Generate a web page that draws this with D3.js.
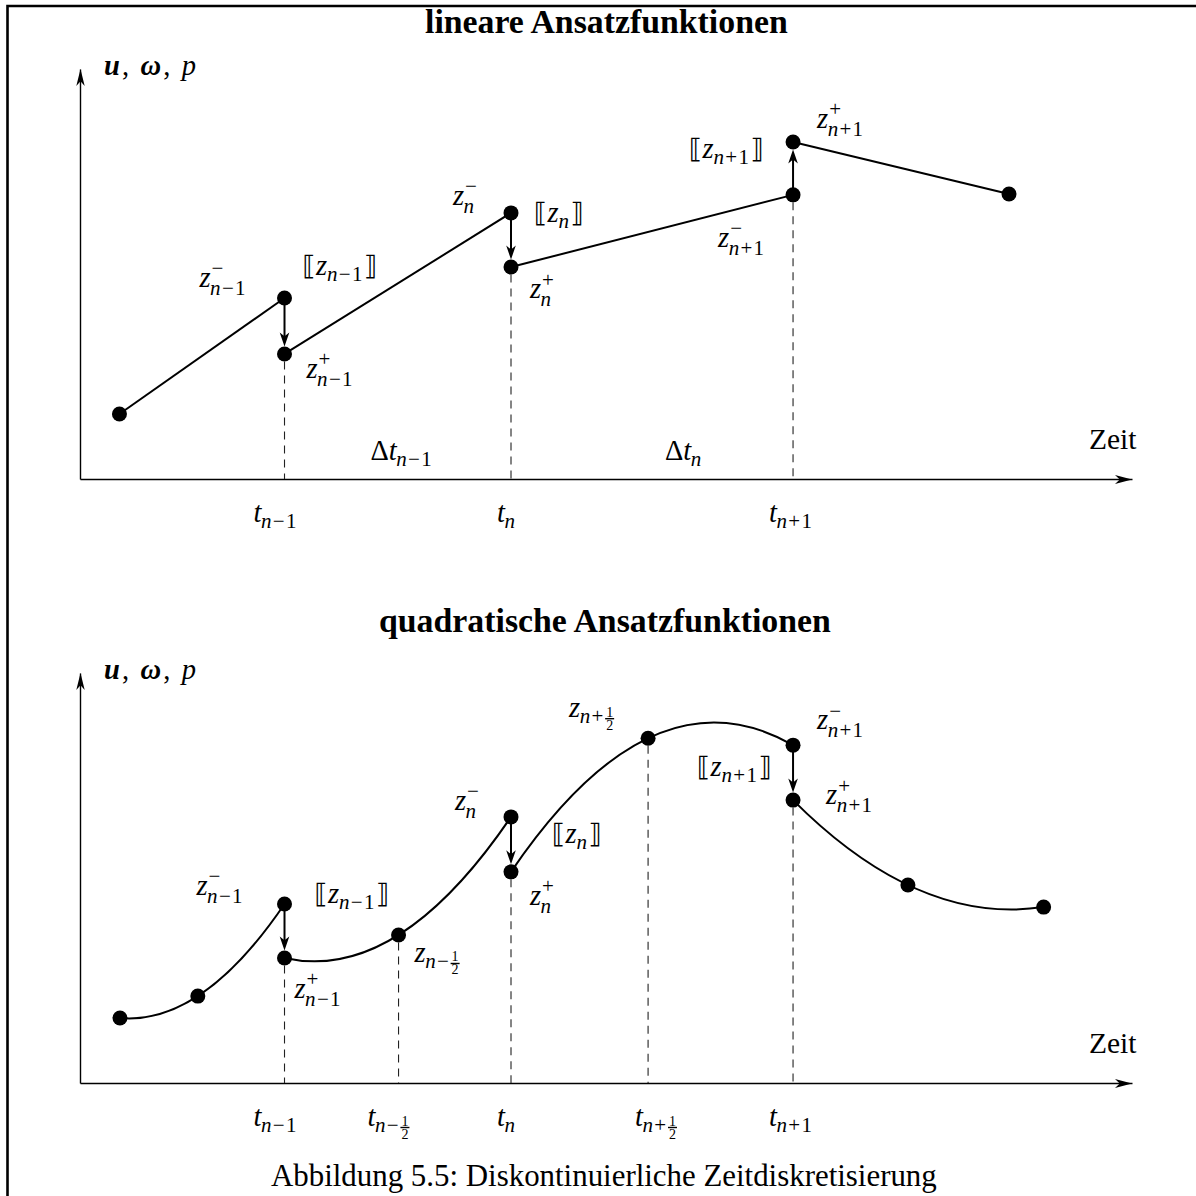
<!DOCTYPE html>
<html><head><meta charset="utf-8">
<script src="https://cdn.jsdelivr.net/npm/d3@7"></script>
<style>
body{margin:0;background:#fff}
svg{display:block}
</style>
</head><body>
<svg id="c" width="1196" height="1196"></svg>
<script>
// ------------------------------------------------------------------ data
// time axis runs 0..10, value axis runs 0..10 (arbitrary units)
const titles = ['lineare Ansatzfunktionen', 'quadratische Ansatzfunktionen'];
const caption = 'Abbildung 5.5: Diskontinuierliche Zeitdiskretisierung';
const xAxisLabel = 'Zeit';

// linear basis functions: nodes (time, value)
const linearTimes  = [0.375, 1.944, 1.944, 4.097, 4.097, 6.778, 6.778, 8.831];
const linearValues = [1.585, 4.415, 3.05, 6.49, 5.17, 6.93, 8.22, 6.95];
const linearElements = [[0, 1], [2, 3], [4, 5], [6, 7]];
const linearJumps = [[1, 2], [3, 4], [5, 6]];
const linearDashed = [2, 4, 5];
const linearNodeSups = [null, '−', '+', '−', '+', '−', '+', null];
const linearNodeSubs = [null, 'n−1', 'n−1', 'n', 'n', 'n+1', 'n+1', null];
const linearJumpSubs = ['n−1', 'n', 'n+1'];
const linearTickTimes = [1.944, 4.097, 6.778];
const linearTickSubs = ['n−1', 'n', 'n+1'];
const deltaSubs = ['n−1', 'n'];

// quadratic basis functions: nodes (time, value)
const quadTimes  = [0.38, 1.12, 1.944, 1.944, 3.028, 4.097, 4.097, 5.40, 6.778, 6.778, 7.87, 9.16];
const quadValues = [1.585, 2.12, 4.366, 3.05, 3.61, 6.49, 5.15, 8.41, 8.24, 6.90, 4.83, 4.29];
const quadElements = [[0, 1, 2], [3, 4, 5], [6, 7, 8], [9, 10, 11]];
const quadJumps = [[2, 3], [5, 6], [8, 9]];
const quadDashed = [3, 4, 6, 7, 9];
const quadNodeSups = [null, null, '−', '+', null, '−', '+', null, '−', '+', null, null];
const quadNodeSubs = [null, null, 'n−1', 'n−1', 'n−½', 'n', 'n', 'n+½', 'n+1', 'n+1', null, null];
const quadJumpSubs = ['n−1', 'n', 'n+1'];
const quadTickTimes = [1.944, 3.028, 4.097, 5.40, 6.778];
const quadTickSubs = ['n−1', 'n−½', 'n', 'n+½', 'n+1'];

// ------------------------------------------------------------------ layout
const FONT = "'Liberation Serif','Times New Roman',serif";
const BRFONT = "'DejaVu Serif','DejaVu Sans',serif";
const FS = 28.5, SS = 21, SSS = 14;
const SUBSP = 1.3;
const R = 7.5;
const xLeft = 80, xRight = 1132;
const panels = [
  {axisY: 479, topY: 69, titleY: 33, titleX: [425, 788]},
  {axisY: 1083, topY: 673, titleY: 632, titleX: [379, 831]}
];
const linearNodeLabelOffsets = [null, [-85, -11], [22, 24], [-58, -8], [19, 31], [-75, 52], [24, -14], null];
const linearJumpLabelOffsets = [[18, -23], [23, 9], [-104, -37]];
const linearTickDx = [-31, -14, -24];
const deltaDx = [86, 154];
const quadNodeLabelOffsets = [null, null, [-88, -9], [10, 40], [16, 27], [-56, -7], [19, 33], [-79, -21], [24, -16], [33, 4], null, null];
const quadJumpLabelOffsets = [[30, -1], [41, 26], [-96, 31]];
const quadTickDx = [-31, -31, -14, -13, -24];

// ------------------------------------------------------------------ drawing
const svg = d3.select('#c').style('font-family', FONT);
svg.append('rect').attr('width', 1196).attr('height', 1196).attr('fill', '#fff');
svg.append('path').attr('d', 'M7.5,1196V6H1196').attr('fill', 'none')
  .attr('stroke', '#000').attr('stroke-width', 2.6);

const x = d3.scaleLinear().domain([0, 10]).range([xLeft, xRight]);

function arrowHead(g, tx, ty, ux, uy, len, hw) {
  const bx = tx - ux * len, by = ty - uy * len;
  const nx = -uy, ny = ux;
  const mx = tx - ux * len * 0.72, my = ty - uy * len * 0.72;
  const p = d3.path();
  p.moveTo(tx, ty);
  p.lineTo(bx + nx * hw, by + ny * hw);
  p.lineTo(mx, my);
  p.lineTo(bx - nx * hw, by - ny * hw);
  p.closePath();
  g.append('path').attr('d', p.toString()).attr('fill', '#000');
}

// one <text> per formula: base letter, stacked super/subscript via absolute tspans
function mathLabel(g, xx, yy, base, sup, sub, prefix) {
  const t = g.append('text').attr('x', xx).attr('y', yy).attr('font-size', FS).attr('fill', '#000');
  if (prefix) t.append('tspan').text(prefix);
  t.append('tspan').attr('font-style', 'italic').text(base);
  const w = t.node().getComputedTextLength();
  if (sup) t.append('tspan').attr('x', xx + w + 1).attr('y', yy - 11.5).attr('font-size', SS).text(sup);
  if (sub) {
    const hasFrac = sub.endsWith('½');
    const s = hasFrac ? sub.slice(0, -1) : sub;
    const sx = xx + w - 0.5, sy = yy + (sup ? 8 : 6);
    const t1 = t.append('tspan').attr('x', sx).attr('y', sy).attr('font-size', SS)
      .attr('font-style', 'italic').attr('letter-spacing', SUBSP).text(s[0]);
    let sw = t1.node().getComputedTextLength();
    if (s.length > 1) {
      const t2 = t.append('tspan').attr('font-size', SS).attr('font-style', 'normal')
        .attr('letter-spacing', SUBSP).text(s.slice(1));
      sw += t2.node().getComputedTextLength();
    }
    if (hasFrac) {
      const fx = sx + sw + 0.5, barY = sy - 4.5, fw = 9;
      t.append('tspan').attr('x', fx + 1).attr('y', barY - 2).attr('font-size', SSS)
        .attr('font-style', 'normal').attr('letter-spacing', 0).text('1');
      t.append('tspan').attr('x', fx + 1).attr('y', barY + 11).attr('font-size', SSS)
        .attr('font-style', 'normal').attr('letter-spacing', 0).text('2');
      g.append('line').attr('x1', fx).attr('x2', fx + fw).attr('y1', barY).attr('y2', barY)
        .attr('stroke', '#000').attr('stroke-width', 1.4);
    }
  }
}

function jumpLabel(g, xx, yy, sub) {
  const t = g.append('text').attr('x', xx).attr('y', yy).attr('font-size', FS).attr('fill', '#000');
  t.append('tspan').attr('font-family', BRFONT).attr('font-size', 27).attr('fill', '#000').text('⟦');
  t.append('tspan').attr('font-style', 'italic').text('z');
  t.append('tspan').attr('dy', 6).attr('font-size', SS).attr('font-style', 'italic')
    .attr('letter-spacing', SUBSP).text(sub[0]);
  if (sub.length > 1) t.append('tspan').attr('font-size', SS).attr('letter-spacing', SUBSP).text(sub.slice(1));
  t.append('tspan').attr('dy', -6).attr('font-family', BRFONT).attr('font-size', 27).attr('fill', '#000').text('⟧');
}

function fitSpacing(sel, target) {
  const w = sel.node().getComputedTextLength();
  const n = sel.text().length;
  sel.attr('letter-spacing', (target - w) / (n - 1));
}
function fitSize(sel, target) {
  const w = sel.node().getComputedTextLength();
  sel.attr('font-size', parseFloat(sel.attr('font-size')) * target / w);
}

function quadPath(p0, p1, p2) {
  const [x0, y0] = p0, [x1, y1] = p1, [x2, y2] = p2;
  const d0 = y0 * (2 * x0 - x1 - x2) / ((x0 - x1) * (x0 - x2))
           + y1 * (x0 - x2) / ((x1 - x0) * (x1 - x2))
           + y2 * (x0 - x1) / ((x2 - x0) * (x2 - x1));
  const xm = (x0 + x2) / 2, ym = y0 + d0 * (xm - x0);
  const p = d3.path();
  p.moveTo(x0, y0);
  p.quadraticCurveTo(xm, ym, x2, y2);
  return p.toString();
}

function drawPanel(pi, cfg) {
  const P = panels[pi];
  const g = svg.append('g');
  const y = d3.scaleLinear().domain([0, 10]).range([P.axisY, P.topY]);

  // title
  const tt = g.append('text').attr('x', P.titleX[0]).attr('y', P.titleY)
    .attr('font-size', 29).attr('font-weight', 'bold').text(titles[pi]);
  fitSize(tt, P.titleX[1] - P.titleX[0]);

  // axes
  const gx = g.append('g').attr('transform', `translate(0,${P.axisY})`)
    .call(d3.axisBottom(x).tickValues([]).tickSizeOuter(0));
  const gy = g.append('g').attr('transform', `translate(${xLeft},0)`)
    .call(d3.axisLeft(y).tickValues([]).tickSizeOuter(0));
  [gx, gy].forEach(a => a.select('.domain').attr('stroke', '#000').attr('stroke-width', 1.4));
  arrowHead(g, xRight, P.axisY + 0.5, 1, 0, 17, 4.4);
  arrowHead(g, xLeft + 0.5, P.topY, 0, -1, 17, 4.2);

  // axis labels
  const yl = g.append('text').attr('x', 104).attr('y', P.topY + 6).attr('font-size', FS);
  yl.append('tspan').attr('font-weight', 'bold').attr('font-style', 'italic').text('u');
  yl.append('tspan').text(', ');
  yl.append('tspan').attr('font-weight', 'bold').attr('font-style', 'italic').text('ω');
  yl.append('tspan').text(', ');
  yl.append('tspan').attr('font-style', 'italic').text('p');
  fitSpacing(yl, 92);
  g.append('text').attr('x', 1089).attr('y', P.axisY - 30).attr('font-size', 29.5).text(xAxisLabel);

  const pts = cfg.times.map((t, i) => [x(t), y(cfg.values[i])]);

  // dashed verticals
  g.selectAll('line.dash').data(cfg.dashed).join('line').attr('class', 'dash')
    .attr('x1', i => pts[i][0]).attr('x2', i => pts[i][0])
    .attr('y1', i => pts[i][1] + R).attr('y2', P.axisY)
    .attr('stroke', '#222').attr('stroke-width', 1.1).attr('stroke-dasharray', '8,6');

  // elements
  if (cfg.quadratic) {
    g.selectAll('path.el').data(cfg.elements).join('path').attr('class', 'el')
      .attr('d', e => quadPath(pts[e[0]], pts[e[1]], pts[e[2]]))
      .attr('fill', 'none').attr('stroke', '#000').attr('stroke-width', 2);
  } else {
    const line = d3.line();
    g.selectAll('path.el').data(cfg.elements).join('path').attr('class', 'el')
      .attr('d', e => line(e.map(i => pts[i])))
      .attr('fill', 'none').attr('stroke', '#000').attr('stroke-width', 2);
  }

  // jump arrows
  cfg.jumps.forEach(([a, b]) => {
    const [xa, ya] = pts[a], [xb, yb] = pts[b];
    const dir = Math.sign(yb - ya);
    const tipY = yb - dir * R;
    g.append('line').attr('x1', xa).attr('x2', xb).attr('y1', ya).attr('y2', tipY - dir * 9)
      .attr('stroke', '#000').attr('stroke-width', 2);
    arrowHead(g, xb, tipY, 0, dir, 14, 4.8);
  });

  // dots
  g.selectAll('circle.node').data(pts).join('circle').attr('class', 'node')
    .attr('cx', d => d[0]).attr('cy', d => d[1]).attr('r', R).attr('fill', '#000');

  // node labels
  cfg.nodeSubs.forEach((s, i) => {
    if (!s) return;
    const o = cfg.nodeOffsets[i];
    mathLabel(g, pts[i][0] + o[0], pts[i][1] + o[1], 'z', cfg.nodeSups[i], s);
  });
  // jump labels
  cfg.jumps.forEach(([a], k) => {
    const o = cfg.jumpOffsets[k];
    jumpLabel(g, pts[a][0] + o[0], pts[a][1] + o[1], cfg.jumpSubs[k]);
  });
  // tick labels
  cfg.tickTimes.forEach((t, k) => {
    mathLabel(g, x(t) + cfg.tickDx[k], P.axisY + 43, 't', null, cfg.tickSubs[k]);
  });
  if (cfg.deltas) {
    cfg.deltas.forEach((s, k) =>
      mathLabel(g, x(cfg.tickTimes[k]) + deltaDx[k], P.axisY - 19, 't', null, s, 'Δ'));
  }
}

drawPanel(0, {
  times: linearTimes, values: linearValues, elements: linearElements, jumps: linearJumps,
  dashed: linearDashed, nodeSups: linearNodeSups, nodeSubs: linearNodeSubs,
  nodeOffsets: linearNodeLabelOffsets, jumpOffsets: linearJumpLabelOffsets, jumpSubs: linearJumpSubs,
  tickTimes: linearTickTimes, tickSubs: linearTickSubs, tickDx: linearTickDx, deltas: deltaSubs,
  quadratic: false
});
drawPanel(1, {
  times: quadTimes, values: quadValues, elements: quadElements, jumps: quadJumps,
  dashed: quadDashed, nodeSups: quadNodeSups, nodeSubs: quadNodeSubs,
  nodeOffsets: quadNodeLabelOffsets, jumpOffsets: quadJumpLabelOffsets, jumpSubs: quadJumpSubs,
  tickTimes: quadTickTimes, tickSubs: quadTickSubs, tickDx: quadTickDx, deltas: null,
  quadratic: true
});

const cap = svg.append('text').attr('x', 271).attr('y', 1186).attr('font-size', 28).text(caption);
fitSize(cap, 666);
</script>
</body></html>
